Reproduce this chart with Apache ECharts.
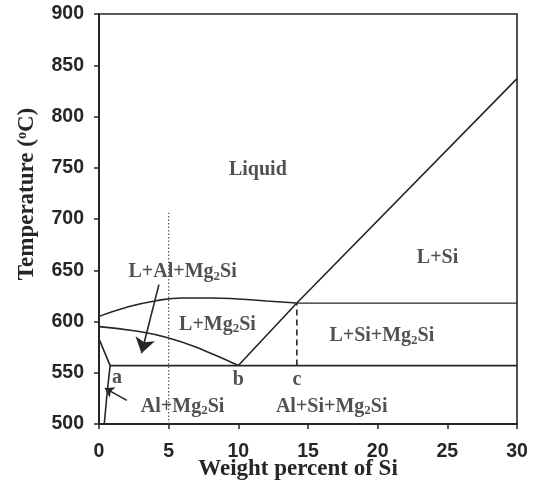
<!DOCTYPE html>
<html>
<head>
<meta charset="utf-8">
<script src="https://cdn.jsdelivr.net/npm/echarts@6/dist/echarts.min.js"></script>
<style>
  html, body { margin: 0; padding: 0; background: #fff; }
  #chart { width: 537px; height: 486px; }
</style>
</head>
<body>
<div id="chart"></div>
<script>
const xTicks = [0, 5, 10, 15, 20, 25, 30];
const yTicks = [500, 550, 600, 650, 700, 750, 800, 850, 900];

// phase boundaries, [wt% Si, temperature]
const liquidusSi = [[10, 557], [14.2, 618], [30, 837]];
const upperCurve = [[0, 605], [2, 614], [4, 620], [6, 623], [8, 623], [10, 622], [12, 620], [14.2, 618]];
const lowerCurve = [[0, 595], [2.5, 591], [5, 584], [7.5, 572], [10, 557]];
const eutecticLine = [[0.8, 557], [30, 557]];
const ternaryLine = [[14.2, 618], [30, 618]];
const solvusLine = [[0, 583], [0.8, 557], [0.58, 530], [0.38, 500]];
const alloyLine = [[5, 500], [5, 706]];
const cLine = [[14.2, 557], [14.2, 618]];

const arrows = [
  [[4.3, 636], [3.05, 569]],
  [[2.0, 523], [0.42, 535]]
];

const labelText = ["Liquid", "L+Si", "L+Al+Mg2Si", "L+Mg2Si", "L+Si+Mg2Si", "a", "b", "c", "Al+Mg2Si", "Al+Si+Mg2Si"];
const labelX = [11.4, 24.3, 6.0, 8.5, 20.3, 1.3, 10.0, 14.2, 6.0, 16.7];
const labelY = [748, 662, 648, 597, 586, 545, 543, 543, 517, 517];

const chart = echarts.init(document.getElementById("chart"));

const ink = "#262626";
const serif = "Liberation Serif";

function curve(data, extra) {
  return Object.assign({
    type: "line",
    data,
    symbol: "none",
    silent: true,
    lineStyle: { color: ink, width: 1.6 },
  }, extra || {});
}

function fmt(t) {
  // Mg2Si -> subscript 2
  return t.split("Mg2").map((p) => "{a|" + p + "}").join("{a|Mg}{s|2}");
}

chart.setOption({
  animation: false,
  grid: {
    left: 99, right: 20, top: 14, bottom: 62,
    outerBoundsMode: "none",
    show: true, borderColor: ink, borderWidth: 1.6,
  },
  xAxis: {
    type: "value",
    min: 0, max: 30, interval: 5,
    name: "Weight percent of Si",
    nameLocation: "middle",
    nameGap: 34,
    nameMoveOverlap: false,
    nameTextStyle: {
      fontFamily: serif, fontWeight: "bold", fontSize: 23, color: ink,
      padding: [0, 20, 0, 0],
    },
    axisLine: { lineStyle: { color: ink, width: 2 } },
    axisTick: { length: 5, lineStyle: { color: ink, width: 1.5 } },
    axisLabel: {
      fontFamily: "Liberation Sans", fontWeight: "bold", fontSize: 19.5, color: ink, margin: 18,
      formatter: (v) => (xTicks.includes(v) ? v : ""),
    },
    splitLine: { show: false },
  },
  yAxis: {
    type: "value",
    min: 500, max: 900, interval: 50,
    name: "Temperature ({o|o}C)",
    nameLocation: "middle",
    nameGap: 60,
    nameRotate: 90,
    nameTextStyle: {
      fontFamily: serif, fontWeight: "bold", fontSize: 23, color: ink,
      padding: [0, 0, 0, 50],
      rich: {
        o: { fontFamily: serif, fontSize: 14, color: ink, padding: [0, 0, 10, 0] },
      },
    },
    axisLine: { lineStyle: { color: ink, width: 2 } },
    axisTick: { length: 5, lineStyle: { color: ink, width: 1.5 } },
    axisLabel: {
      fontFamily: "Liberation Sans", fontWeight: "bold", fontSize: 19.5, color: ink, margin: 15,
      formatter: (v) => (yTicks.includes(v) ? v : ""),
    },
    splitLine: { show: false },
  },
  series: [
    curve(liquidusSi),
    curve(upperCurve, { smooth: true }),
    curve(lowerCurve, { smooth: true }),
    curve(eutecticLine),
    curve(ternaryLine, { lineStyle: { color: ink, width: 1.3 } }),
    curve(solvusLine),
    curve(alloyLine, { lineStyle: { color: "#555", width: 1.2, type: [1.5, 2] } }),
    curve(cLine, { lineStyle: { color: ink, width: 1.6, type: [6, 4] } }),
    {
      type: "lines",
      coordinateSystem: "cartesian2d",
      silent: true,
      symbol: ["none", "arrow"],
      symbolSize: [0, 14],
      lineStyle: { color: ink, width: 1.6, opacity: 1 },
      data: [
        { coords: arrows[0], symbolSize: 15 },
        { coords: arrows[1], symbolSize: 9 },
      ],
    },
    {
      type: "scatter",
      silent: true,
      symbolSize: 0,
      data: labelText.map((t, i) => [labelX[i], labelY[i], t]),
      label: {
        show: true,
        position: "inside",
        formatter: (p) => fmt(p.data[2]),
        rich: {
          a: { fontFamily: serif, fontWeight: "bold", fontSize: 20, color: ink },
          s: { fontFamily: serif, fontWeight: "bold", fontSize: 13, color: ink, padding: [9, 0, 0, 0] },
        },
      },
    },
  ],
});
</script>
</body>
</html>
